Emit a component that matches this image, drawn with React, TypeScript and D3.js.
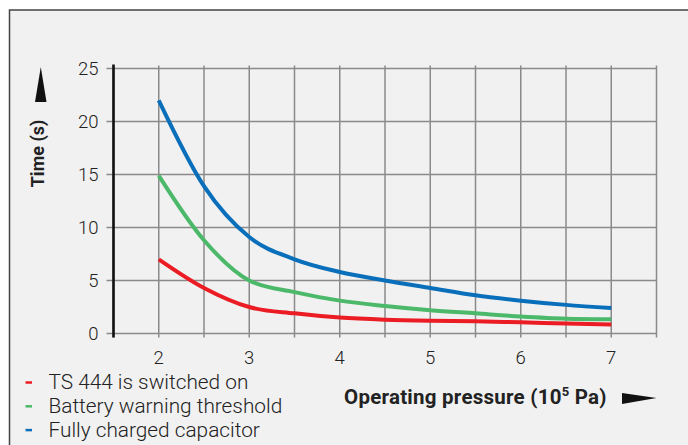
import React from "react";
import * as d3 from "d3";

const pressures = [2, 2.5, 3, 3.5, 4, 4.5, 5, 5.5, 6, 6.5, 7];
const tsSwitchedOn = [7.0, 4.3, 2.5, 1.9, 1.5, 1.3, 1.2, 1.15, 1.05, 0.95, 0.85];
const batteryWarning = [14.9, 8.8, 5.0, 3.9, 3.1, 2.6, 2.2, 1.9, 1.6, 1.4, 1.35];
const fullyCharged = [22.0, 13.9, 9.1, 7.0, 5.8, 5.0, 4.3, 3.6, 3.1, 2.7, 2.4];
const seriesNames = ["TS 444 is switched on", "Battery warning threshold", "Fully charged capacitor"];
const seriesColors = ["#ec1c24", "#4cb96a", "#0a6fba"];
const xTicks = [2, 3, 4, 5, 6, 7];
const yTicks = [0, 5, 10, 15, 20, 25];
const xGrid = [1.5, 2, 2.5, 3, 3.5, 4, 4.5, 5, 5.5, 6, 6.5, 7, 7.5];

export default function App() {
  const W = 688, H = 445;
  const x = d3.scaleLinear().domain([1.5, 7.5]).range([113.5, 656.5]);
  const y = d3.scaleLinear().domain([0, 25]).range([333.5, 68.5]);
  const line = d3
    .line<number>()
    .x((_, i) => x(pressures[i]))
    .y((d) => y(d))
    .curve(d3.curveMonotoneX);
  const series = [tsSwitchedOn, batteryWarning, fullyCharged];
  const font = "Roboto, 'Liberation Sans', Arial, sans-serif";
  return (
    <svg
      width={W}
      height={H}
      style={{ position: "absolute", left: 0, top: 0 }}
      fontFamily={font}
    >
      <rect x={0} y={0} width={W} height={H} fill="#fff" />
      <rect x={9.5} y={10} width={W} height={H} fill="#f1f1f1" stroke="#444" strokeWidth={1.5} />
      {/* grid */}
      {xGrid.map((v) => (
        <line key={"vx" + v} x1={x(v)} x2={x(v)} y1={y(25) - 3} y2={y(0) + 4} stroke="#8a8a8a" strokeWidth={1.5} />
      ))}
      {yTicks.map((v) => (
        <line key={"hy" + v} x1={x(1.5) - 7} x2={x(7.5)} y1={y(v)} y2={y(v)} stroke="#8a8a8a" strokeWidth={1.5} />
      ))}
      <line x1={x(1.5)} x2={x(1.5)} y1={y(25) - 4} y2={y(0) + 4} stroke="#111" strokeWidth={2.6} />
      {/* tick labels */}
      {yTicks.map((v) => (
        <text key={"yl" + v} x={98.5} y={y(v) + 6.7} textAnchor="end" fontSize={18.5} fontWeight={300} fill="#222">
          {v}
        </text>
      ))}
      {xTicks.map((v) => (
        <text key={"xl" + v} x={x(v)} y={364} textAnchor="middle" fontSize={18.5} fontWeight={300} fill="#222">
          {v}
        </text>
      ))}
      {/* series */}
      {series.map((s, i) => (
        <path key={"s" + i} d={line(s) || ""} fill="none" stroke={seriesColors[i]} strokeWidth={4} />
      ))}
      {/* y title */}
      <text transform="translate(44,153.5) rotate(-90)" textAnchor="middle" fontSize={18} fontWeight="bold" fill="#222">
        Time (s)
      </text>
      <path d="M40.8,67 L46.5,102 L35,102 Z" fill="#111" />
      {/* x title */}
      <text x={344} y={404} fontSize={20.5} fontWeight="bold" fill="#222" letterSpacing={0.25}>
        Operating pressure (10
        <tspan dy={-8} fontSize={13}>5</tspan>
        <tspan dy={8}> Pa)</tspan>
      </text>
      <path d="M622,393 L656.5,398 L622,404 Z" fill="#111" />
      {/* legend */}
      {seriesNames.map((n, i) => (
        <g key={"lg" + i}>
          <line x1={25.5} x2={32} y1={382.5 + i * 23.8} y2={382.5 + i * 23.8} stroke={seriesColors[i]} strokeWidth={2.5} />
          <text x={48.5} y={389 + i * 23.8} fontSize={20.8} fontWeight={300} fill="#222">
            {n}
          </text>
        </g>
      ))}
    </svg>
  );
}
